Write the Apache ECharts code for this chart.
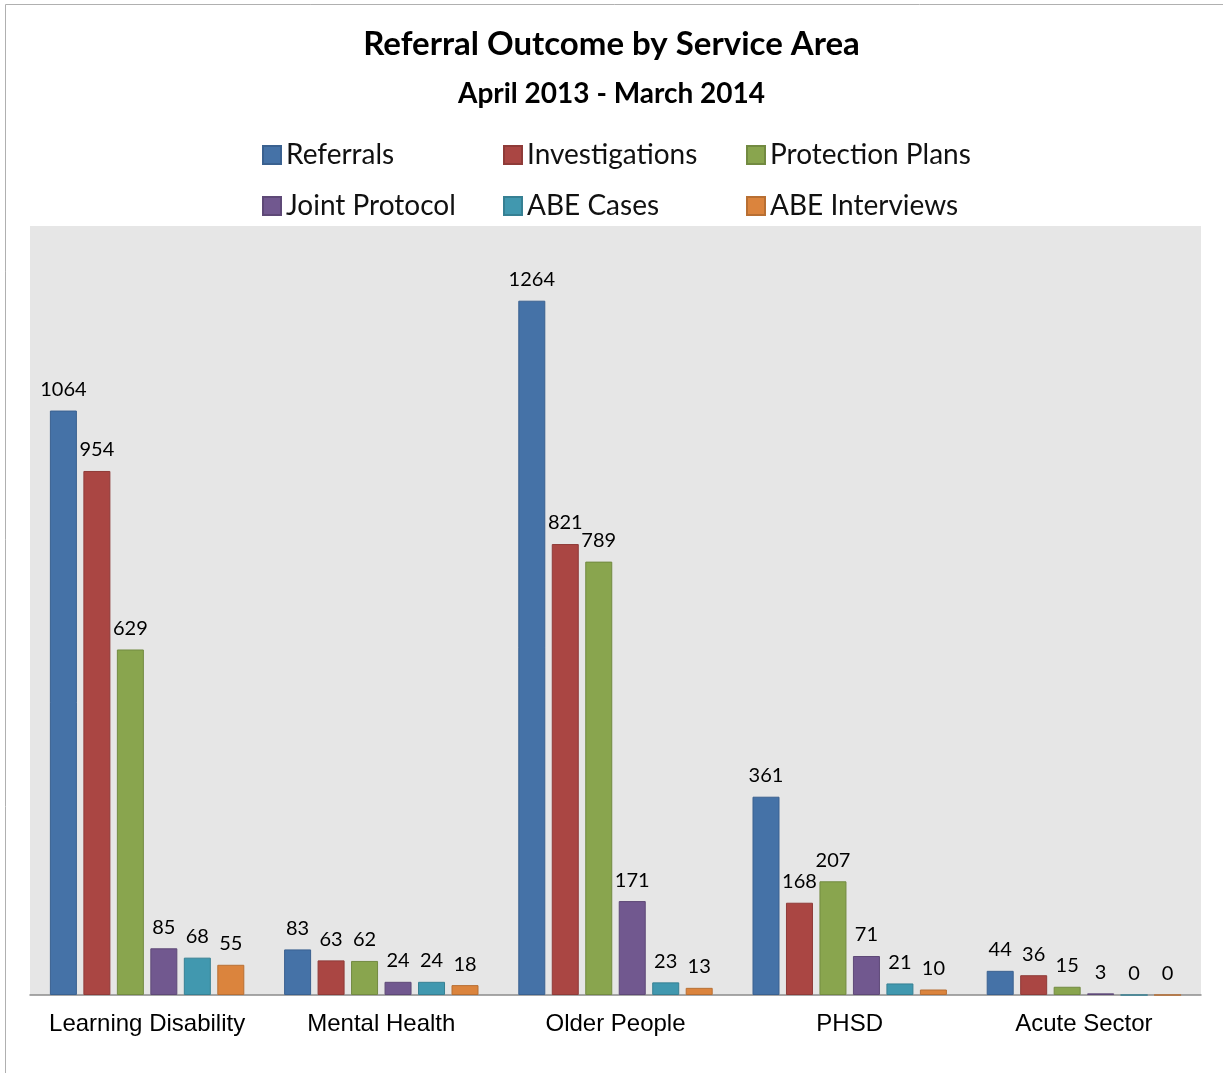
<!DOCTYPE html>
<html>
<head>
<meta charset="utf-8">
<script src="https://cdn.jsdelivr.net/npm/echarts@6/dist/echarts.min.js"></script>
<style>
  html, body { margin: 0; padding: 0; background: #ffffff; }
  #chart { width: 1223px; height: 1073px; }
</style>
</head>
<body>
<div id="chart"></div>
<script>
// Service areas along the x axis
const categories = ['Learning Disability', 'Mental Health', 'Older People', 'PHSD', 'Acute Sector'];

// Outcome counts per service area
const referrals       = [1064, 83, 1264, 361, 44];
const investigations  = [954, 63, 821, 168, 36];
const protectionPlans = [629, 62, 789, 207, 15];
const jointProtocol   = [85, 24, 171, 71, 3];
const abeCases        = [68, 24, 23, 21, 0];
const abeInterviews   = [55, 18, 13, 10, 0];

const seriesNames  = ['Referrals', 'Investigations', 'Protection Plans', 'Joint Protocol', 'ABE Cases', 'ABE Interviews'];
const seriesData   = [referrals, investigations, protectionPlans, jointProtocol, abeCases, abeInterviews];
const seriesColors = ['#4572A7', '#AA4643', '#89A54E', '#71588F', '#4198AF', '#DB843D'];
const borderColors = ['#3a6190', '#8f3b38', '#728a41', '#5e4977', '#368093', '#b86f33'];

const chart = echarts.init(document.getElementById('chart'), null, { renderer: 'canvas' });

const legendText = { fontFamily: 'Lato', fontSize: 28, lineHeight: 28, color: '#111' };
function legendColumn(left, names) {
  return {
    orient: 'vertical', left: left, top: 141, itemGap: 23, padding: 0,
    itemWidth: 18, itemHeight: 18, icon: 'rect',
    textStyle: legendText, data: names, selectedMode: false
  };
}

chart.setOption({
  backgroundColor: '#ffffff',
  animation: false,
  color: seriesColors,
  title: [
    { text: 'Referral Outcome by Service Area', left: 'center', top: 23,
      textStyle: { fontFamily: 'Lato', fontWeight: 'bold', fontSize: 33, color: '#000' } },
    { text: 'April 2013 - March 2014', left: 'center', top: 75,
      textStyle: { fontFamily: 'Lato', fontWeight: 'bold', fontSize: 28, color: '#000' } }
  ],
  legend: [
    legendColumn(262, ['Referrals', 'Joint Protocol']),
    legendColumn(503, ['Investigations', 'ABE Cases']),
    legendColumn(746, ['Protection Plans', 'ABE Interviews'])
  ],
  graphic: [{
    type: 'rect', silent: true,
    shape: { x: 5.5, y: 4.5, width: 1400, height: 1200 },
    style: { fill: 'none', stroke: '#b0b0b0', lineWidth: 1 }
  }],
  grid: {
    left: 30, right: 22, top: 226, bottom: 78,
    show: true, backgroundColor: '#e6e6e6', borderWidth: 0
  },
  xAxis: {
    type: 'category', data: categories,
    axisLine: { show: true, lineStyle: { color: '#8c8c8c', width: 1.5 } },
    axisTick: { show: false },
    axisLabel: { interval: 0, fontFamily: 'Liberation Sans', fontSize: 24, color: '#000', margin: 17 }
  },
  yAxis: {
    type: 'value', min: 0, max: 1400, show: false,
    splitLine: { show: false }
  },
  series: seriesNames.map((name, i) => ({
    name: name, type: 'bar', data: seriesData[i],
    barWidth: 27, barGap: '24%',
    itemStyle: { color: seriesColors[i], borderColor: borderColors[i], borderWidth: 1 },
    label: {
      show: true, position: 'top', distance: 11,
      fontFamily: 'Lato', fontSize: 20, color: '#000'
    }
  }))
});
</script>
</body>
</html>
